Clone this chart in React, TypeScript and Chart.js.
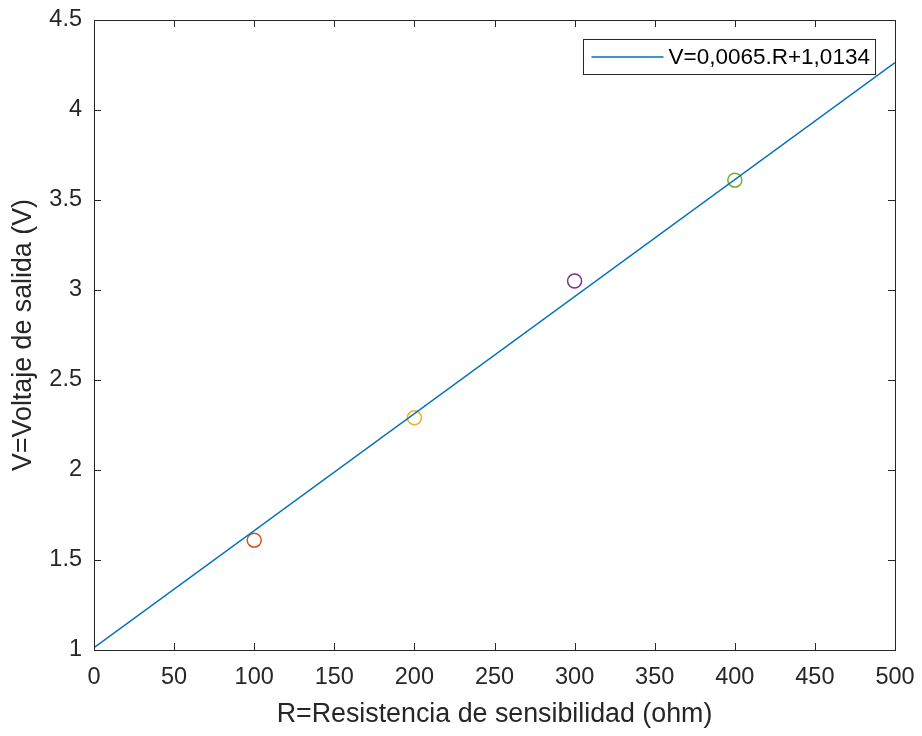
import React, { useEffect, useRef } from "react";
import { Chart, registerables } from "chart.js";

Chart.register(...registerables);

const fitR = [0, 500];
const fitV = [1.0134, 4.2634];
const fitLabel = "V=0,0065.R+1,0134";
const measR = [100, 200, 300, 400];
const measV = [1.61, 2.29, 3.05, 3.61];
const measColors = ["#D95319", "#EDB120", "#7E2F8E", "#77AC30"];
const xTickValues = [0, 50, 100, 150, 200, 250, 300, 350, 400, 450, 500];
const yTickValues = [1, 1.5, 2, 2.5, 3, 3.5, 4, 4.5];
const xTitle = "R=Resistencia de sensibilidad (ohm)";
const yTitle = "V=Voltaje de salida (V)";

const AXIS = "#262626";
const FONT = "'Liberation Sans', Arial, sans-serif";
const TICK_SIZE = 23.5;
const TITLE_SIZE = 26.8;
const LEGEND_SIZE = 22.5;

export default function App() {
  const ref = useRef<HTMLCanvasElement | null>(null);
  useEffect(() => {
    document.body.style.margin = "0";
    const canvas = ref.current;
    if (!canvas) return;

    const boxPlugin = {
      id: "matlabBox",
      afterDatasetsDraw(chart: any) {
        const { ctx, chartArea: a, scales } = chart;
        const tl = 7;
        ctx.save();
        ctx.strokeStyle = AXIS;
        ctx.lineWidth = 1;
        ctx.beginPath();
        for (const v of xTickValues) {
          const x = Math.round(scales.x.getPixelForValue(v)) + 0.5;
          ctx.moveTo(x, a.bottom);
          ctx.lineTo(x, a.bottom - tl);
          ctx.moveTo(x, a.top);
          ctx.lineTo(x, a.top + tl);
        }
        for (const v of yTickValues) {
          const y = Math.round(scales.y.getPixelForValue(v)) + 0.5;
          ctx.moveTo(a.left, y);
          ctx.lineTo(a.left + tl, y);
          ctx.moveTo(a.right, y);
          ctx.lineTo(a.right - tl, y);
        }
        ctx.stroke();
        ctx.strokeRect(Math.round(a.left) + 0.5, Math.round(a.top) + 0.5, Math.round(a.right - a.left), Math.round(a.bottom - a.top));

        // legend
        const bx = Math.round(a.right) - 312 + 0.5;
        const by = Math.round(a.top) + 19 + 0.5;
        const bw = 292;
        const bh = 35;
        ctx.fillStyle = "#ffffff";
        ctx.fillRect(bx, by, bw, bh);
        ctx.strokeStyle = AXIS;
        ctx.strokeRect(bx, by, bw, bh);
        const ly = by + bh / 2;
        ctx.strokeStyle = "#0072BD";
        ctx.lineWidth = 1.5;
        ctx.beginPath();
        ctx.moveTo(bx + 8, ly);
        ctx.lineTo(bx + 80, ly);
        ctx.stroke();
        ctx.fillStyle = "#000000";
        ctx.font = `${LEGEND_SIZE}px ${FONT}`;
        ctx.textBaseline = "middle";
        ctx.textAlign = "left";
        ctx.fillText(fitLabel, bx + 85, ly + 1);
        ctx.restore();
      },
    };

    const datasets: any[] = [
      {
        label: fitLabel,
        data: fitR.map((r, i) => ({ x: r, y: fitV[i] })),
        showLine: true,
        borderColor: "#0072BD",
        borderWidth: 1.5,
        pointRadius: 0,
        fill: false,
      },
      ...measR.map((r, i) => ({
        label: `P${i + 1}`,
        data: [{ x: r, y: measV[i] }],
        showLine: false,
        pointRadius: 7,
        pointBorderWidth: 1.5,
        pointBorderColor: measColors[i],
        pointBackgroundColor: "rgba(0,0,0,0)",
        borderColor: measColors[i],
      })),
    ];

    const chart = new Chart(canvas, {
      type: "scatter",
      data: { datasets },
      plugins: [boxPlugin],
      options: {
        animation: false,
        responsive: false,
        maintainAspectRatio: false,
        layout: { padding: { left: 0, right: 27, top: 20, bottom: 0 } },
        plugins: { legend: { display: false }, tooltip: { enabled: false } },
        scales: {
          x: {
            type: "linear",
            min: 0,
            max: 500,
            afterBuildTicks(scale: any) {
              scale.ticks = xTickValues.map((v) => ({ value: v }));
            },
            afterFit(scale: any) {
              scale.height = 86;
              scale.paddingLeft = 0;
              scale.paddingRight = 0;
            },
            grid: { display: false, drawTicks: false },
            border: { display: false },
            ticks: {
              color: AXIS,
              font: { family: FONT, size: TICK_SIZE },
              padding: 13,
              maxRotation: 0,
              autoSkip: false,
              callback: (v: any) => String(v),
            },
            title: {
              display: true,
              text: xTitle,
              color: AXIS,
              font: { family: FONT, size: TITLE_SIZE },
              padding: { top: 0, bottom: 5 },
            },
          },
          y: {
            type: "linear",
            min: 1,
            max: 4.5,
            afterBuildTicks(scale: any) {
              scale.ticks = yTickValues.map((v) => ({ value: v }));
            },
            afterFit(scale: any) {
              scale.width = 94;
              scale.paddingTop = 0;
              scale.paddingBottom = 0;
            },
            grid: { display: false, drawTicks: false },
            border: { display: false },
            ticks: {
              color: AXIS,
              font: { family: FONT, size: TICK_SIZE },
              padding: 12,
              autoSkip: false,
              callback: (v: any) => String(v),
            },
            title: {
              display: true,
              text: yTitle,
              color: AXIS,
              font: { family: FONT, size: TITLE_SIZE },
              padding: { top: 8, bottom: 0 },
            },
          },
        },
      },
    });
    return () => chart.destroy();
  }, []);

  return (
    <div style={{ width: 922, height: 736, background: "#fff" }}>
      <canvas ref={ref} width={922} height={736} style={{ display: "block" }} />
    </div>
  );
}
